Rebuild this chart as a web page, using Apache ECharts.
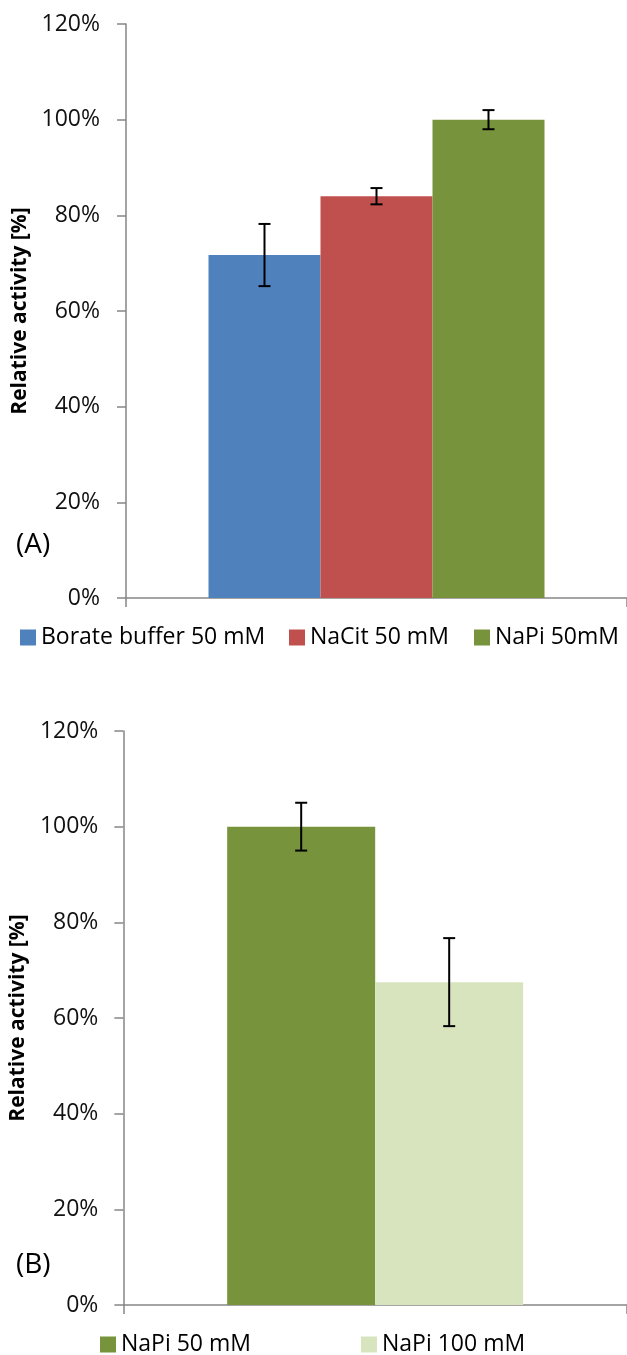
<!DOCTYPE html>
<html>
<head>
<meta charset="utf-8">
<style>
  html, body { margin: 0; padding: 0; background: #fff; }
  #chart { width: 627px; height: 1355px; }
</style>
<script src="https://cdn.jsdelivr.net/npm/echarts@6/dist/echarts.min.js"></script>
</head>
<body>
<div id="chart"></div>
<script>
// Panel (A): buffer type at 50 mM
const seriesA = ['Borate buffer 50 mM', 'NaCit 50 mM', 'NaPi 50mM'];
const valuesA = [71.7, 84.0, 100];
const errorsA = [6.5, 1.7, 2.0];
const colorsA = ['#4F81BD', '#C0504D', '#77933C'];

// Panel (B): phosphate concentration
const seriesB = ['NaPi 50 mM', 'NaPi 100 mM'];
const valuesB = [100, 67.5];
const errorsB = [5.0, 9.2];
const colorsB = ['#77933C', '#D7E4BD'];

// Shared value axis
const yMin = 0, yMax = 120, yStep = 20;
const yTitle = 'Relative activity [%]';
const category = [''];

const FONT = '"Open Sans", sans-serif';
const AXIS_GRAY = '#868686';
const BAR_W_A = 112;
const BAR_W_B = 148;

const chart = echarts.init(document.getElementById('chart'), null, { renderer: 'canvas' });

function valueAxis(gridIndex) {
  return {
    type: 'value', gridIndex, min: yMin, max: yMax, interval: yStep,
    name: yTitle, nameLocation: 'middle', nameGap: gridIndex === 0 ? 92 : 86,
    nameRotate: 90,
    nameTextStyle: { fontFamily: FONT, fontSize: 21, fontWeight: 'bold', color: '#000' },
    axisLine: { show: true, lineStyle: { color: AXIS_GRAY, width: 1.5 } },
    axisTick: { show: true, length: 9, lineStyle: { color: AXIS_GRAY, width: 1.5 } },
    splitLine: { show: false },
    axisLabel: { formatter: '{value}%', fontFamily: FONT, fontSize: 23, color: '#111', margin: gridIndex === 0 ? 26 : 25 }
  };
}

function catAxis(gridIndex) {
  return {
    type: 'category', gridIndex, data: category,
    axisLine: { show: true, lineStyle: { color: AXIS_GRAY, width: 1.5 } },
    axisTick: { show: true, length: 9, lineStyle: { color: AXIS_GRAY, width: 1.5 } },
    axisLabel: { show: false }
  };
}

// Error bar renderer: I-shaped whisker centered on each bar in the group
function errorRenderer(barW, count) {
  return function (params, api) {
    const idx = api.value(0);
    const lo = api.coord([idx, api.value(1)]);
    const hi = api.coord([idx, api.value(2)]);
    const k = api.value(3);
    const x = lo[0] + (k - (count - 1) / 2) * barW;
    const cap = 6;
    const style = { stroke: '#000', lineWidth: 2 };
    return {
      type: 'group',
      children: [
        { type: 'line', shape: { x1: x, y1: hi[1], x2: x, y2: lo[1] }, style },
        { type: 'line', shape: { x1: x - cap, y1: hi[1], x2: x + cap, y2: hi[1] }, style },
        { type: 'line', shape: { x1: x - cap, y1: lo[1], x2: x + cap, y2: lo[1] }, style }
      ]
    };
  };
}

function barSeries(names, values, colors, axisIndex, barW) {
  return names.map((n, i) => ({
    name: n, type: 'bar', xAxisIndex: axisIndex, yAxisIndex: axisIndex,
    data: [values[i]], barWidth: barW, barGap: '0%',
    itemStyle: { color: colors[i] }, z: 2
  }));
}

function errorSeries(values, errors, axisIndex, barW) {
  return {
    type: 'custom', xAxisIndex: axisIndex, yAxisIndex: axisIndex, z: 5,
    renderItem: errorRenderer(barW, values.length),
    data: values.map((v, i) => [0, v - errors[i], v + errors[i], i]),
    silent: true
  };
}

function legendItem(name, left, top) {
  return {
    data: [name], left, top, padding: 0, orient: 'horizontal',
    icon: 'rect', itemWidth: 16, itemHeight: 16, itemGap: 6,
    selectedMode: false,
    textStyle: { fontFamily: FONT, fontSize: 23, color: '#000', padding: [0, 0, 0, 0] }
  };
}

const option = {
  backgroundColor: '#fff',
  animation: false,
  grid: [
    { left: 126, width: 503, top: 24, height: 574, containLabel: false },
    { left: 118, width: 516, top: 731, height: 574, containLabel: false }
  ],
  xAxis: [catAxis(0), catAxis(1)],
  yAxis: [valueAxis(0), valueAxis(1)],
  legend: [
    legendItem(seriesA[0], 20, 626),
    legendItem(seriesA[1], 289, 626),
    legendItem(seriesA[2], 474, 626),
    legendItem(seriesB[0], 100, 1333),
    legendItem(seriesB[1], 361, 1333)
  ],
  graphic: [
    { type: 'text', left: 16, top: 531, style: { text: '(A)', fontFamily: FONT, fontSize: 28, fill: '#000' } },
    { type: 'text', left: 16, top: 1251, style: { text: '(B)', fontFamily: FONT, fontSize: 28, fill: '#000' } }
  ],
  series: [
    ...barSeries(seriesA, valuesA, colorsA, 0, BAR_W_A),
    errorSeries(valuesA, errorsA, 0, BAR_W_A),
    ...barSeries(seriesB, valuesB, colorsB, 1, BAR_W_B),
    errorSeries(valuesB, errorsB, 1, BAR_W_B)
  ]
};

chart.setOption(option);
</script>
</body>
</html>
